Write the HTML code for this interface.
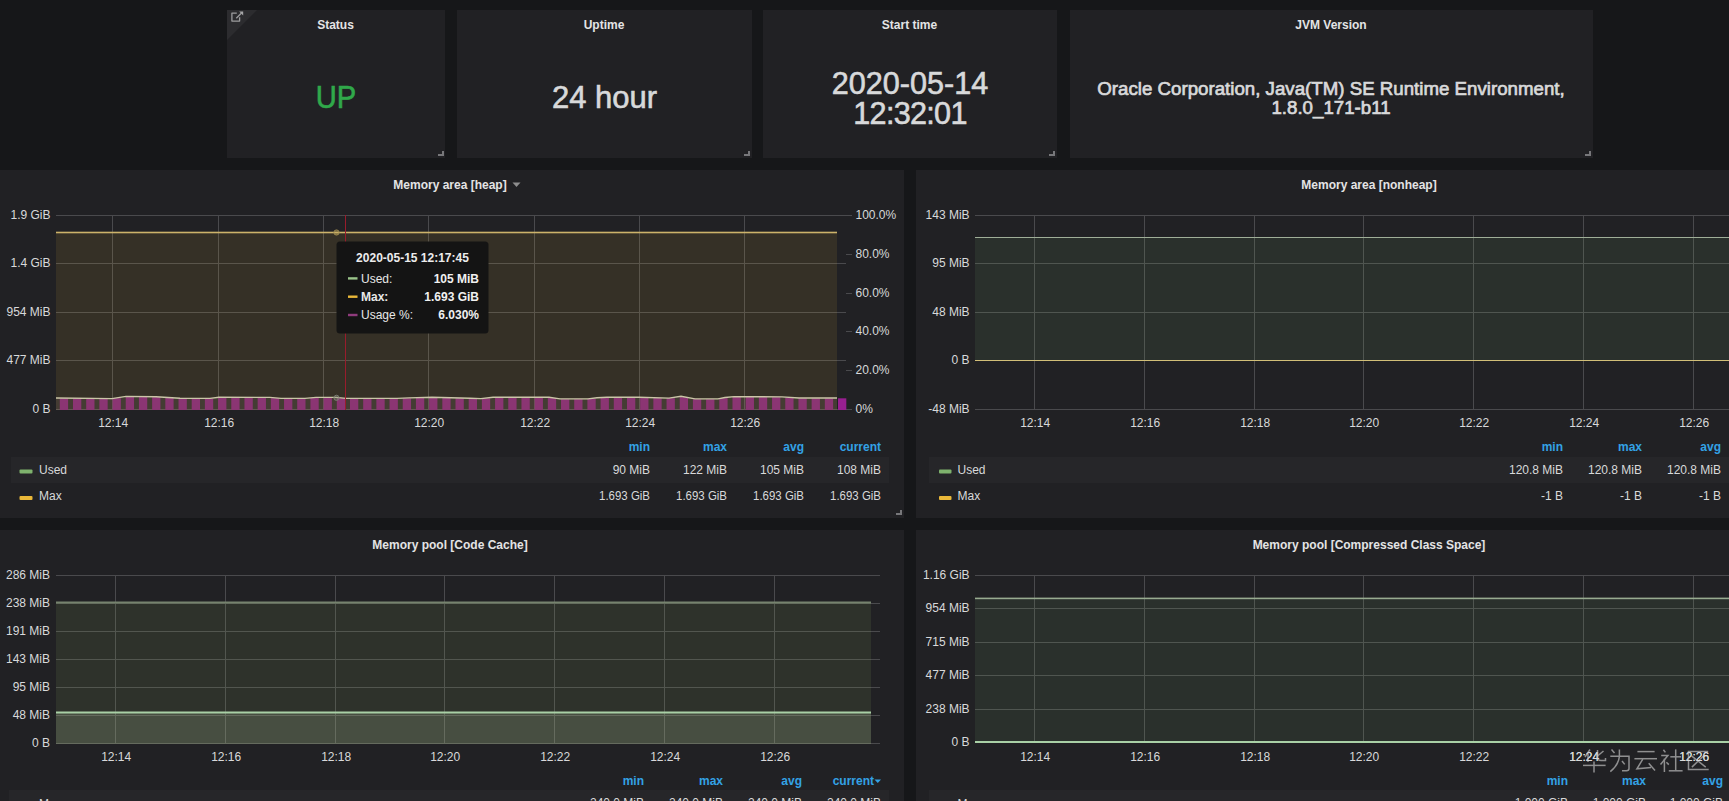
<!DOCTYPE html>
<html><head><meta charset="utf-8"><title>Grafana JVM</title>
<style>
html,body{margin:0;padding:0;background:#161719;width:1729px;height:801px;overflow:hidden;}
svg{display:block;font-family:"Liberation Sans",sans-serif;}
</style></head>
<body>
<svg width="1729" height="801" viewBox="0 0 1729 801">
<rect x="0" y="0" width="1729" height="801" fill="#161719"/>
<rect x="227" y="10" width="218" height="148" fill="#212124" />
<rect x="457" y="10" width="295" height="148" fill="#212124" />
<rect x="763" y="10" width="294" height="148" fill="#212124" />
<rect x="1070" y="10" width="523" height="148" fill="#212124" />
<rect x="-2" y="170" width="906" height="348" fill="#212124" />
<rect x="916" y="170" width="906" height="348" fill="#212124" />
<rect x="-2" y="530" width="906" height="300" fill="#212124" />
<rect x="916" y="530" width="906" height="300" fill="#212124" />
<polygon points="227,10 257,10 227,40" fill="#2c2c2f"/>
<g stroke="#9c9c9e" stroke-width="1.3" fill="none" stroke-linejoin="round"><path d="M236.8 13.2 H231.9 V21.1 H239.6 V17.2"/><path d="M236.3 18.2 L241.5 13"/></g><polygon points="239.2,11.6 243.2,11.6 243.2,15.6" fill="#a6a6a8"/>
<text x="335.5" y="29" font-size="12" text-anchor="middle" font-weight="bold" fill="#e4e4e5" >Status</text>
<text x="604" y="29" font-size="12" text-anchor="middle" font-weight="bold" fill="#e4e4e5" >Uptime</text>
<text x="909.5" y="29" font-size="12" text-anchor="middle" font-weight="bold" fill="#e4e4e5" >Start time</text>
<text x="1331" y="29" font-size="12" text-anchor="middle" font-weight="bold" fill="#e4e4e5" >JVM Version</text>
<text x="336" y="108" font-size="31" text-anchor="middle" font-weight="normal" fill="#30a84a" stroke="#30a84a" stroke-width="0.6" paint-order="stroke" textLength="40.5" lengthAdjust="spacingAndGlyphs">UP</text>
<text x="604.5" y="108" font-size="31" text-anchor="middle" font-weight="normal" fill="#d8d9da" stroke="#d8d9da" stroke-width="0.6" paint-order="stroke">24 hour</text>
<text x="910" y="93.5" font-size="30.6" text-anchor="middle" font-weight="normal" fill="#d8d9da" stroke="#d8d9da" stroke-width="0.6" paint-order="stroke">2020-05-14</text>
<text x="910" y="123.5" font-size="30.6" text-anchor="middle" font-weight="normal" fill="#d8d9da" stroke="#d8d9da" stroke-width="0.6" paint-order="stroke" letter-spacing="-0.7">12:32:01</text>
<text x="1331" y="95.3" font-size="18.7" text-anchor="middle" font-weight="normal" fill="#d8d9da" stroke="#d8d9da" stroke-width="0.7" paint-order="stroke">Oracle Corporation, Java(TM) SE Runtime Environment,</text>
<text x="1331" y="114" font-size="18.7" text-anchor="middle" font-weight="normal" fill="#d8d9da" stroke="#d8d9da" stroke-width="0.7" paint-order="stroke">1.8.0_171-b11</text>
<path d="M438 156 H444 V151 H442 V154 H438 Z" fill="#77777a"/>
<path d="M744 156 H750 V151 H748 V154 H744 Z" fill="#77777a"/>
<path d="M1049 156 H1055 V151 H1053 V154 H1049 Z" fill="#77777a"/>
<path d="M1585 156 H1591 V151 H1589 V154 H1585 Z" fill="#77777a"/>
<text x="450" y="189" font-size="12" text-anchor="middle" font-weight="bold" fill="#e4e4e5" >Memory area [heap]</text>
<path d="M512.5 182.5 L520.5 182.5 L516.5 187 Z" fill="#8e8e8e"/>
<rect x="56" y="215" width="790" height="1" fill="#4a4a4d" />
<rect x="56" y="263" width="790" height="1" fill="#4a4a4d" />
<rect x="56" y="312" width="790" height="1" fill="#4a4a4d" />
<rect x="56" y="360" width="790" height="1" fill="#4a4a4d" />
<rect x="56" y="409" width="790" height="1" fill="#4a4a4d" />
<rect x="112" y="215" width="1" height="195" fill="#4a4a4d" />
<rect x="218" y="215" width="1" height="195" fill="#4a4a4d" />
<rect x="323" y="215" width="1" height="195" fill="#4a4a4d" />
<rect x="428" y="215" width="1" height="195" fill="#4a4a4d" />
<rect x="534" y="215" width="1" height="195" fill="#4a4a4d" />
<rect x="639" y="215" width="1" height="195" fill="#4a4a4d" />
<rect x="744" y="215" width="1" height="195" fill="#4a4a4d" />
<rect x="846" y="409" width="6" height="1" fill="#4a4a4d" />
<rect x="846" y="370" width="6" height="1" fill="#4a4a4d" />
<rect x="846" y="331" width="6" height="1" fill="#4a4a4d" />
<rect x="846" y="293" width="6" height="1" fill="#4a4a4d" />
<rect x="846" y="254" width="6" height="1" fill="#4a4a4d" />
<rect x="846" y="215" width="6" height="1" fill="#4a4a4d" />
<rect x="56" y="232.3" width="781" height="177.7" fill="rgba(234,184,57,0.10)" />
<path d="M56 398.0 L112 398.6 L126 396.4 L156 396.8 L180 398.3 L210 398.4 L219 397.3 L270 397.4 L281 398.4 L305 398.4 L316 397.4 L336 397.4 L346 398.4 L397 398.4 L409 397.9 L432 397.3 L470 398.3 L481 398.6 L493 397.3 L549 397.3 L560 398.9 L588 398.9 L597 397.8 L607 397.3 L639 397.3 L669 398.1 L681 396.3 L695 398.9 L718 398.9 L725 397.5 L734 396.6 L782 396.9 L799 398.0 L837 398.0 L837 410 L56 410 Z" fill="rgba(126,178,109,0.10)"/>
<path d="M56 398.0 L112 398.6 L126 396.4 L156 396.8 L180 398.3 L210 398.4 L219 397.3 L270 397.4 L281 398.4 L305 398.4 L316 397.4 L336 397.4 L346 398.4 L397 398.4 L409 397.9 L432 397.3 L470 398.3 L481 398.6 L493 397.3 L549 397.3 L560 398.9 L588 398.9 L597 397.8 L607 397.3 L639 397.3 L669 398.1 L681 396.3 L695 398.9 L718 398.9 L725 397.5 L734 396.6 L782 396.9 L799 398.0 L837 398.0 L837 410 L56 410 Z" fill="rgba(150,60,110,0.10)"/>
<rect x="59.80" y="398.38" width="8.3" height="11.62" fill="#8b3573" />
<rect x="72.99" y="398.52" width="8.3" height="11.48" fill="#8b3573" />
<rect x="86.18" y="398.67" width="8.3" height="11.33" fill="#8b3573" />
<rect x="99.37" y="398.81" width="8.3" height="11.19" fill="#8b3573" />
<rect x="112.56" y="398.18" width="8.3" height="11.82" fill="#8b3573" />
<rect x="125.75" y="396.75" width="8.3" height="13.25" fill="#8b3573" />
<rect x="138.94" y="396.93" width="8.3" height="13.07" fill="#8b3573" />
<rect x="152.13" y="397.11" width="8.3" height="12.89" fill="#8b3573" />
<rect x="165.32" y="397.93" width="8.3" height="12.07" fill="#8b3573" />
<rect x="178.51" y="398.61" width="8.3" height="11.39" fill="#8b3573" />
<rect x="191.70" y="398.65" width="8.3" height="11.35" fill="#8b3573" />
<rect x="204.89" y="398.70" width="8.3" height="11.30" fill="#8b3573" />
<rect x="218.08" y="397.61" width="8.3" height="12.39" fill="#8b3573" />
<rect x="231.27" y="397.63" width="8.3" height="12.37" fill="#8b3573" />
<rect x="244.46" y="397.66" width="8.3" height="12.34" fill="#8b3573" />
<rect x="257.65" y="397.68" width="8.3" height="12.32" fill="#8b3573" />
<rect x="270.84" y="398.14" width="8.3" height="11.86" fill="#8b3573" />
<rect x="284.03" y="398.70" width="8.3" height="11.30" fill="#8b3573" />
<rect x="297.22" y="398.70" width="8.3" height="11.30" fill="#8b3573" />
<rect x="310.41" y="397.84" width="8.3" height="12.16" fill="#8b3573" />
<rect x="323.60" y="397.70" width="8.3" height="12.30" fill="#8b3573" />
<rect x="336.79" y="398.18" width="8.3" height="11.82" fill="#8b3573" />
<rect x="349.98" y="398.70" width="8.3" height="11.30" fill="#8b3573" />
<rect x="363.17" y="398.70" width="8.3" height="11.30" fill="#8b3573" />
<rect x="376.36" y="398.70" width="8.3" height="11.30" fill="#8b3573" />
<rect x="389.55" y="398.70" width="8.3" height="11.30" fill="#8b3573" />
<rect x="402.74" y="398.29" width="8.3" height="11.71" fill="#8b3573" />
<rect x="415.93" y="397.91" width="8.3" height="12.09" fill="#8b3573" />
<rect x="429.12" y="397.63" width="8.3" height="12.37" fill="#8b3573" />
<rect x="442.31" y="397.98" width="8.3" height="12.02" fill="#8b3573" />
<rect x="455.50" y="398.32" width="8.3" height="11.68" fill="#8b3573" />
<rect x="468.69" y="398.67" width="8.3" height="11.33" fill="#8b3573" />
<rect x="481.88" y="398.37" width="8.3" height="11.63" fill="#8b3573" />
<rect x="495.07" y="397.60" width="8.3" height="12.40" fill="#8b3573" />
<rect x="508.26" y="397.60" width="8.3" height="12.40" fill="#8b3573" />
<rect x="521.45" y="397.60" width="8.3" height="12.40" fill="#8b3573" />
<rect x="534.64" y="397.60" width="8.3" height="12.40" fill="#8b3573" />
<rect x="547.83" y="398.01" width="8.3" height="11.99" fill="#8b3573" />
<rect x="561.02" y="399.20" width="8.3" height="10.80" fill="#8b3573" />
<rect x="574.21" y="399.20" width="8.3" height="10.80" fill="#8b3573" />
<rect x="587.40" y="398.78" width="8.3" height="11.22" fill="#8b3573" />
<rect x="600.59" y="397.72" width="8.3" height="12.28" fill="#8b3573" />
<rect x="613.78" y="397.60" width="8.3" height="12.40" fill="#8b3573" />
<rect x="626.97" y="397.60" width="8.3" height="12.40" fill="#8b3573" />
<rect x="640.16" y="397.74" width="8.3" height="12.26" fill="#8b3573" />
<rect x="653.35" y="398.09" width="8.3" height="11.91" fill="#8b3573" />
<rect x="666.54" y="398.17" width="8.3" height="11.83" fill="#8b3573" />
<rect x="679.73" y="397.11" width="8.3" height="12.89" fill="#8b3573" />
<rect x="692.92" y="399.20" width="8.3" height="10.80" fill="#8b3573" />
<rect x="706.11" y="399.20" width="8.3" height="10.80" fill="#8b3573" />
<rect x="719.30" y="398.14" width="8.3" height="11.86" fill="#8b3573" />
<rect x="732.49" y="396.92" width="8.3" height="13.08" fill="#8b3573" />
<rect x="745.68" y="397.00" width="8.3" height="13.00" fill="#8b3573" />
<rect x="758.87" y="397.08" width="8.3" height="12.92" fill="#8b3573" />
<rect x="772.06" y="397.16" width="8.3" height="12.84" fill="#8b3573" />
<rect x="785.25" y="397.67" width="8.3" height="12.33" fill="#8b3573" />
<rect x="798.44" y="398.30" width="8.3" height="11.70" fill="#8b3573" />
<rect x="811.63" y="398.30" width="8.3" height="11.70" fill="#8b3573" />
<rect x="824.82" y="398.30" width="8.3" height="11.70" fill="#8b3573" />
<rect x="838.01" y="398.30" width="8.3" height="11.70" fill="#981f90" />
<path d="M56 398.0 L112 398.6 L126 396.4 L156 396.8 L180 398.3 L210 398.4 L219 397.3 L270 397.4 L281 398.4 L305 398.4 L316 397.4 L336 397.4 L346 398.4 L397 398.4 L409 397.9 L432 397.3 L470 398.3 L481 398.6 L493 397.3 L549 397.3 L560 398.9 L588 398.9 L597 397.8 L607 397.3 L639 397.3 L669 398.1 L681 396.3 L695 398.9 L718 398.9 L725 397.5 L734 396.6 L782 396.9 L799 398.0 L837 398.0" stroke="#cbc6a8" stroke-width="1.4" fill="none"/>
<rect x="56" y="231.7" width="781" height="1.6" fill="#cdb36a" />
<rect x="345" y="215" width="1" height="195" fill="#981c2c" />
<circle cx="336.5" cy="232.5" r="2.6" fill="rgba(200,170,90,0.45)" stroke="#9a8850" stroke-width="1"/>
<circle cx="336.5" cy="397.8" r="2.6" fill="rgba(140,150,130,0.35)" stroke="#7a7a72" stroke-width="1"/>
<text x="50.5" y="218.8" font-size="12" text-anchor="end" font-weight="normal" fill="#d8d9da" >1.9 GiB</text>
<text x="50.5" y="266.8" font-size="12" text-anchor="end" font-weight="normal" fill="#d8d9da" >1.4 GiB</text>
<text x="50.5" y="315.8" font-size="12" text-anchor="end" font-weight="normal" fill="#d8d9da" >954 MiB</text>
<text x="50.5" y="363.8" font-size="12" text-anchor="end" font-weight="normal" fill="#d8d9da" >477 MiB</text>
<text x="50.5" y="412.8" font-size="12" text-anchor="end" font-weight="normal" fill="#d8d9da" >0 B</text>
<text x="855.5" y="412.8" font-size="12" text-anchor="start" font-weight="normal" fill="#d8d9da" >0%</text>
<text x="855.5" y="373.8" font-size="12" text-anchor="start" font-weight="normal" fill="#d8d9da" >20.0%</text>
<text x="855.5" y="334.8" font-size="12" text-anchor="start" font-weight="normal" fill="#d8d9da" >40.0%</text>
<text x="855.5" y="296.8" font-size="12" text-anchor="start" font-weight="normal" fill="#d8d9da" >60.0%</text>
<text x="855.5" y="257.8" font-size="12" text-anchor="start" font-weight="normal" fill="#d8d9da" >80.0%</text>
<text x="855.5" y="218.8" font-size="12" text-anchor="start" font-weight="normal" fill="#d8d9da" >100.0%</text>
<text x="113.2" y="426.8" font-size="12" text-anchor="middle" font-weight="normal" fill="#d8d9da" >12:14</text>
<text x="219.2" y="426.8" font-size="12" text-anchor="middle" font-weight="normal" fill="#d8d9da" >12:16</text>
<text x="324.2" y="426.8" font-size="12" text-anchor="middle" font-weight="normal" fill="#d8d9da" >12:18</text>
<text x="429.2" y="426.8" font-size="12" text-anchor="middle" font-weight="normal" fill="#d8d9da" >12:20</text>
<text x="535.2" y="426.8" font-size="12" text-anchor="middle" font-weight="normal" fill="#d8d9da" >12:22</text>
<text x="640.2" y="426.8" font-size="12" text-anchor="middle" font-weight="normal" fill="#d8d9da" >12:24</text>
<text x="745.2" y="426.8" font-size="12" text-anchor="middle" font-weight="normal" fill="#d8d9da" >12:26</text>
<text x="650" y="450.6" font-size="12" text-anchor="end" font-weight="bold" fill="#33a2e5" >min</text>
<text x="727" y="450.6" font-size="12" text-anchor="end" font-weight="bold" fill="#33a2e5" >max</text>
<text x="804" y="450.6" font-size="12" text-anchor="end" font-weight="bold" fill="#33a2e5" >avg</text>
<text x="881" y="450.6" font-size="12" text-anchor="end" font-weight="bold" fill="#33a2e5" >current</text>
<rect x="11" y="457" width="878" height="26" fill="#262629" />
<rect x="19.5" y="469.5" width="13" height="4" rx="1" fill="#7eb26d"/>
<text x="39" y="474" font-size="12" text-anchor="start" font-weight="normal" fill="#d8d9da" >Used</text>
<rect x="19.5" y="496" width="13" height="4" rx="1" fill="#eab839"/>
<text x="39" y="499.8" font-size="12" text-anchor="start" font-weight="normal" fill="#d8d9da" >Max</text>
<text x="650" y="474" font-size="12" text-anchor="end" font-weight="normal" fill="#d8d9da" >90 MiB</text>
<text x="727" y="474" font-size="12" text-anchor="end" font-weight="normal" fill="#d8d9da" >122 MiB</text>
<text x="804" y="474" font-size="12" text-anchor="end" font-weight="normal" fill="#d8d9da" >105 MiB</text>
<text x="881" y="474" font-size="12" text-anchor="end" font-weight="normal" fill="#d8d9da" >108 MiB</text>
<text x="650" y="499.6" font-size="12" text-anchor="end" font-weight="normal" fill="#d8d9da" textLength="51" lengthAdjust="spacingAndGlyphs">1.693 GiB</text>
<text x="727" y="499.6" font-size="12" text-anchor="end" font-weight="normal" fill="#d8d9da" textLength="51" lengthAdjust="spacingAndGlyphs">1.693 GiB</text>
<text x="804" y="499.6" font-size="12" text-anchor="end" font-weight="normal" fill="#d8d9da" textLength="51" lengthAdjust="spacingAndGlyphs">1.693 GiB</text>
<text x="881" y="499.6" font-size="12" text-anchor="end" font-weight="normal" fill="#d8d9da" textLength="51" lengthAdjust="spacingAndGlyphs">1.693 GiB</text>
<path d="M896 515 H902 V510 H900 V513 H896 Z" fill="#77777a"/>
<rect x="336.5" y="241.5" width="152" height="92" rx="3.5" fill="#141414"/>
<text x="412.5" y="262" font-size="12" text-anchor="middle" font-weight="bold" fill="#ececec" >2020-05-15 12:17:45</text>
<rect x="348" y="277.2" width="9.5" height="2.4" fill="#9ac48a"/>
<text x="361" y="282.59999999999997" font-size="12" text-anchor="start" font-weight="normal" fill="#e8e8e8" >Used:</text>
<text x="479" y="282.59999999999997" font-size="12" text-anchor="end" font-weight="bold" fill="#f0f0f0" >105 MiB</text>
<rect x="348" y="295.5" width="9.5" height="2.4" fill="#eab839"/>
<text x="361" y="300.9" font-size="12" text-anchor="start" font-weight="bold" fill="#e8e8e8" >Max:</text>
<text x="479" y="300.9" font-size="12" text-anchor="end" font-weight="bold" fill="#f0f0f0" >1.693 GiB</text>
<rect x="348" y="313.8" width="9.5" height="2.4" fill="#8f3b7c"/>
<text x="361" y="319.2" font-size="12" text-anchor="start" font-weight="normal" fill="#e8e8e8" >Usage %:</text>
<text x="479" y="319.2" font-size="12" text-anchor="end" font-weight="bold" fill="#f0f0f0" >6.030%</text>
<text x="1369" y="189" font-size="12" text-anchor="middle" font-weight="bold" fill="#e4e4e5" >Memory area [nonheap]</text>
<rect x="975" y="215" width="754" height="1" fill="#4a4a4d" />
<rect x="975" y="263" width="754" height="1" fill="#4a4a4d" />
<rect x="975" y="312" width="754" height="1" fill="#4a4a4d" />
<rect x="975" y="360" width="754" height="1" fill="#4a4a4d" />
<rect x="975" y="409" width="754" height="1" fill="#4a4a4d" />
<rect x="1034" y="215" width="1" height="195" fill="#4a4a4d" />
<rect x="1144" y="215" width="1" height="195" fill="#4a4a4d" />
<rect x="1254" y="215" width="1" height="195" fill="#4a4a4d" />
<rect x="1363" y="215" width="1" height="195" fill="#4a4a4d" />
<rect x="1473" y="215" width="1" height="195" fill="#4a4a4d" />
<rect x="1583" y="215" width="1" height="195" fill="#4a4a4d" />
<rect x="1693" y="215" width="1" height="195" fill="#4a4a4d" />
<rect x="975" y="237" width="754" height="123" fill="rgba(126,178,109,0.105)" />
<rect x="975" y="237" width="754" height="1" fill="#9fae98" />
<rect x="975" y="360" width="754" height="1" fill="#d2bf78" />
<text x="969.6" y="218.8" font-size="12" text-anchor="end" font-weight="normal" fill="#d8d9da" >143 MiB</text>
<text x="969.6" y="266.8" font-size="12" text-anchor="end" font-weight="normal" fill="#d8d9da" >95 MiB</text>
<text x="969.6" y="315.8" font-size="12" text-anchor="end" font-weight="normal" fill="#d8d9da" >48 MiB</text>
<text x="969.6" y="363.8" font-size="12" text-anchor="end" font-weight="normal" fill="#d8d9da" >0 B</text>
<text x="969.6" y="412.8" font-size="12" text-anchor="end" font-weight="normal" fill="#d8d9da" >-48 MiB</text>
<text x="1035.2" y="426.8" font-size="12" text-anchor="middle" font-weight="normal" fill="#d8d9da" >12:14</text>
<text x="1145.2" y="426.8" font-size="12" text-anchor="middle" font-weight="normal" fill="#d8d9da" >12:16</text>
<text x="1255.2" y="426.8" font-size="12" text-anchor="middle" font-weight="normal" fill="#d8d9da" >12:18</text>
<text x="1364.2" y="426.8" font-size="12" text-anchor="middle" font-weight="normal" fill="#d8d9da" >12:20</text>
<text x="1474.2" y="426.8" font-size="12" text-anchor="middle" font-weight="normal" fill="#d8d9da" >12:22</text>
<text x="1584.2" y="426.8" font-size="12" text-anchor="middle" font-weight="normal" fill="#d8d9da" >12:24</text>
<text x="1694.2" y="426.8" font-size="12" text-anchor="middle" font-weight="normal" fill="#d8d9da" >12:26</text>
<text x="1563" y="450.6" font-size="12" text-anchor="end" font-weight="bold" fill="#33a2e5" >min</text>
<text x="1642" y="450.6" font-size="12" text-anchor="end" font-weight="bold" fill="#33a2e5" >max</text>
<text x="1721" y="450.6" font-size="12" text-anchor="end" font-weight="bold" fill="#33a2e5" >avg</text>
<rect x="929" y="457" width="800" height="26" fill="#262629" />
<rect x="939" y="469.5" width="12.5" height="4" rx="1" fill="#7eb26d"/>
<text x="957.5" y="474" font-size="12" text-anchor="start" font-weight="normal" fill="#d8d9da" >Used</text>
<rect x="939" y="496" width="12.5" height="4" rx="1" fill="#eab839"/>
<text x="957.5" y="499.8" font-size="12" text-anchor="start" font-weight="normal" fill="#d8d9da" >Max</text>
<text x="1563" y="474" font-size="12" text-anchor="end" font-weight="normal" fill="#d8d9da" >120.8 MiB</text>
<text x="1563" y="499.6" font-size="12" text-anchor="end" font-weight="normal" fill="#d8d9da" >-1 B</text>
<text x="1642" y="474" font-size="12" text-anchor="end" font-weight="normal" fill="#d8d9da" >120.8 MiB</text>
<text x="1642" y="499.6" font-size="12" text-anchor="end" font-weight="normal" fill="#d8d9da" >-1 B</text>
<text x="1721" y="474" font-size="12" text-anchor="end" font-weight="normal" fill="#d8d9da" >120.8 MiB</text>
<text x="1721" y="499.6" font-size="12" text-anchor="end" font-weight="normal" fill="#d8d9da" >-1 B</text>
<text x="450" y="549" font-size="12" text-anchor="middle" font-weight="bold" fill="#e4e4e5" >Memory pool [Code Cache]</text>
<rect x="56" y="575" width="824" height="1" fill="#4a4a4d" />
<rect x="56" y="603" width="824" height="1" fill="#4a4a4d" />
<rect x="56" y="631" width="824" height="1" fill="#4a4a4d" />
<rect x="56" y="659" width="824" height="1" fill="#4a4a4d" />
<rect x="56" y="687" width="824" height="1" fill="#4a4a4d" />
<rect x="56" y="715" width="824" height="1" fill="#4a4a4d" />
<rect x="56" y="743" width="824" height="1" fill="#4a4a4d" />
<rect x="115" y="575" width="1" height="169" fill="#4a4a4d" />
<rect x="225" y="575" width="1" height="169" fill="#4a4a4d" />
<rect x="335" y="575" width="1" height="169" fill="#4a4a4d" />
<rect x="444" y="575" width="1" height="169" fill="#4a4a4d" />
<rect x="554" y="575" width="1" height="169" fill="#4a4a4d" />
<rect x="664" y="575" width="1" height="169" fill="#4a4a4d" />
<rect x="774" y="575" width="1" height="169" fill="#4a4a4d" />
<rect x="56" y="602" width="815" height="142" fill="rgba(140,170,100,0.12)" />
<rect x="56" y="712" width="815" height="32" fill="rgba(190,205,165,0.18)" />
<rect x="56" y="601.5" width="815" height="2" fill="#76836e" />
<rect x="56" y="711.5" width="815" height="2" fill="#a9d0a6" />
<text x="50" y="578.8" font-size="12" text-anchor="end" font-weight="normal" fill="#d8d9da" >286 MiB</text>
<text x="50" y="606.8" font-size="12" text-anchor="end" font-weight="normal" fill="#d8d9da" >238 MiB</text>
<text x="50" y="634.8" font-size="12" text-anchor="end" font-weight="normal" fill="#d8d9da" >191 MiB</text>
<text x="50" y="662.8" font-size="12" text-anchor="end" font-weight="normal" fill="#d8d9da" >143 MiB</text>
<text x="50" y="690.8" font-size="12" text-anchor="end" font-weight="normal" fill="#d8d9da" >95 MiB</text>
<text x="50" y="718.8" font-size="12" text-anchor="end" font-weight="normal" fill="#d8d9da" >48 MiB</text>
<text x="50" y="746.8" font-size="12" text-anchor="end" font-weight="normal" fill="#d8d9da" >0 B</text>
<text x="116.2" y="760.8" font-size="12" text-anchor="middle" font-weight="normal" fill="#d8d9da" >12:14</text>
<text x="226.2" y="760.8" font-size="12" text-anchor="middle" font-weight="normal" fill="#d8d9da" >12:16</text>
<text x="336.2" y="760.8" font-size="12" text-anchor="middle" font-weight="normal" fill="#d8d9da" >12:18</text>
<text x="445.2" y="760.8" font-size="12" text-anchor="middle" font-weight="normal" fill="#d8d9da" >12:20</text>
<text x="555.2" y="760.8" font-size="12" text-anchor="middle" font-weight="normal" fill="#d8d9da" >12:22</text>
<text x="665.2" y="760.8" font-size="12" text-anchor="middle" font-weight="normal" fill="#d8d9da" >12:24</text>
<text x="775.2" y="760.8" font-size="12" text-anchor="middle" font-weight="normal" fill="#d8d9da" >12:26</text>
<text x="644" y="784.7" font-size="12" text-anchor="end" font-weight="bold" fill="#33a2e5" >min</text>
<text x="723" y="784.7" font-size="12" text-anchor="end" font-weight="bold" fill="#33a2e5" >max</text>
<text x="802" y="784.7" font-size="12" text-anchor="end" font-weight="bold" fill="#33a2e5" >avg</text>
<text x="874" y="784.7" font-size="12" text-anchor="end" font-weight="bold" fill="#33a2e5" >current</text>
<path d="M874.5 779.5 L881 779.5 L877.75 783 Z" fill="#33a2e5"/>
<rect x="9" y="790" width="880" height="30" fill="#262629" />
<text x="39" y="808" font-size="12" text-anchor="start" font-weight="normal" fill="#d8d9da" >Max</text>
<text x="644" y="806.5" font-size="12" text-anchor="end" font-weight="normal" fill="#d8d9da" >240.0 MiB</text>
<text x="723" y="806.5" font-size="12" text-anchor="end" font-weight="normal" fill="#d8d9da" >240.0 MiB</text>
<text x="802" y="806.5" font-size="12" text-anchor="end" font-weight="normal" fill="#d8d9da" >240.0 MiB</text>
<text x="881" y="806.5" font-size="12" text-anchor="end" font-weight="normal" fill="#d8d9da" >240.0 MiB</text>
<text x="1369" y="549" font-size="12" text-anchor="middle" font-weight="bold" fill="#e4e4e5" >Memory pool [Compressed Class Space]</text>
<rect x="975" y="575" width="754" height="1" fill="#4a4a4d" />
<rect x="975" y="608" width="754" height="1" fill="#4a4a4d" />
<rect x="975" y="642" width="754" height="1" fill="#4a4a4d" />
<rect x="975" y="675" width="754" height="1" fill="#4a4a4d" />
<rect x="975" y="709" width="754" height="1" fill="#4a4a4d" />
<rect x="975" y="742" width="754" height="1" fill="#4a4a4d" />
<rect x="1034" y="575" width="1" height="168" fill="#4a4a4d" />
<rect x="1144" y="575" width="1" height="168" fill="#4a4a4d" />
<rect x="1254" y="575" width="1" height="168" fill="#4a4a4d" />
<rect x="1363" y="575" width="1" height="168" fill="#4a4a4d" />
<rect x="1473" y="575" width="1" height="168" fill="#4a4a4d" />
<rect x="1583" y="575" width="1" height="168" fill="#4a4a4d" />
<rect x="1693" y="575" width="1" height="168" fill="#4a4a4d" />
<rect x="975" y="598" width="754" height="144" fill="rgba(126,178,109,0.105)" />
<rect x="975" y="597.6" width="754" height="1.6" fill="#98ab90" />
<rect x="975" y="741" width="754" height="2" fill="#a9d0a6" />
<text x="969.6" y="578.8" font-size="12" text-anchor="end" font-weight="normal" fill="#d8d9da" >1.16 GiB</text>
<text x="969.6" y="611.8" font-size="12" text-anchor="end" font-weight="normal" fill="#d8d9da" >954 MiB</text>
<text x="969.6" y="645.8" font-size="12" text-anchor="end" font-weight="normal" fill="#d8d9da" >715 MiB</text>
<text x="969.6" y="678.8" font-size="12" text-anchor="end" font-weight="normal" fill="#d8d9da" >477 MiB</text>
<text x="969.6" y="712.8" font-size="12" text-anchor="end" font-weight="normal" fill="#d8d9da" >238 MiB</text>
<text x="969.6" y="745.8" font-size="12" text-anchor="end" font-weight="normal" fill="#d8d9da" >0 B</text>
<text x="1035.2" y="760.8" font-size="12" text-anchor="middle" font-weight="normal" fill="#d8d9da" >12:14</text>
<text x="1145.2" y="760.8" font-size="12" text-anchor="middle" font-weight="normal" fill="#d8d9da" >12:16</text>
<text x="1255.2" y="760.8" font-size="12" text-anchor="middle" font-weight="normal" fill="#d8d9da" >12:18</text>
<text x="1364.2" y="760.8" font-size="12" text-anchor="middle" font-weight="normal" fill="#d8d9da" >12:20</text>
<text x="1474.2" y="760.8" font-size="12" text-anchor="middle" font-weight="normal" fill="#d8d9da" >12:22</text>
<text x="1584.2" y="760.8" font-size="12" text-anchor="middle" font-weight="normal" fill="#d8d9da" >12:24</text>
<text x="1694.2" y="760.8" font-size="12" text-anchor="middle" font-weight="normal" fill="#d8d9da" >12:26</text>
<text x="1568" y="784.7" font-size="12" text-anchor="end" font-weight="bold" fill="#33a2e5" >min</text>
<text x="1646" y="784.7" font-size="12" text-anchor="end" font-weight="bold" fill="#33a2e5" >max</text>
<text x="1723" y="784.7" font-size="12" text-anchor="end" font-weight="bold" fill="#33a2e5" >avg</text>
<rect x="929" y="790" width="800" height="30" fill="#262629" />
<text x="957.5" y="808" font-size="12" text-anchor="start" font-weight="normal" fill="#d8d9da" >Max</text>
<text x="1568" y="806.5" font-size="12" text-anchor="end" font-weight="normal" fill="#d8d9da" >1.000 GiB</text>
<text x="1646" y="806.5" font-size="12" text-anchor="end" font-weight="normal" fill="#d8d9da" >1.000 GiB</text>
<text x="1723" y="806.5" font-size="12" text-anchor="end" font-weight="normal" fill="#d8d9da" >1.000 GiB</text>

<g stroke="#8f8f90" stroke-width="1.5" fill="none" stroke-linecap="butt" stroke-linejoin="miter">
 <path d="M1590 749.5 L1585 757"/><path d="M1588 754 V762"/>
 <path d="M1603.5 751 L1597.5 756"/><path d="M1597.5 750 V757.5 Q1597.5 760.5 1601 760.5 H1605.5 V758"/>
 <path d="M1583 765.4 H1605.6"/><path d="M1594 761.5 V772.5"/>
 <path d="M1611.5 749.5 L1614.5 753"/>
 <path d="M1610.3 756.3 H1629 V768.5 Q1629 770.7 1626.5 770.7 H1622"/>
 <path d="M1619.4 749.5 V756.5 Q1618.5 765 1610.3 771.6"/>
 <path d="M1622 761 L1624.7 764.4"/>
 <path d="M1637.4 751.6 H1654.6"/><path d="M1634.4 758.7 H1657"/>
 <path d="M1642.8 759.2 L1636.9 768.8 L1651.1 767.4"/><path d="M1648.7 763.2 L1655 770.5"/>
 <path d="M1663.4 749.7 L1665.4 752.4"/><path d="M1661.2 755.6 H1667.9 L1660.5 764.6"/>
 <path d="M1664.4 758.7 V772"/><path d="M1666.4 762.2 L1668.8 764.6"/>
 <path d="M1675.7 749.4 V770.5"/><path d="M1670.3 756.8 H1681.1"/><path d="M1668.8 770.8 H1682.6"/>
 <path d="M1708.2 751.4 H1688.5 V769.6 H1708.7"/><path d="M1691.5 755.8 L1705.7 767.1"/><path d="M1703.7 755.8 L1691.9 767.1"/>
</g>
<text x="1584.2" y="760.8" font-size="12" text-anchor="middle" font-weight="normal" fill="#d8d9da" >12:24</text>
<text x="1694.2" y="760.8" font-size="12" text-anchor="middle" font-weight="normal" fill="#d8d9da" >12:26</text>
</svg>
</body></html>
